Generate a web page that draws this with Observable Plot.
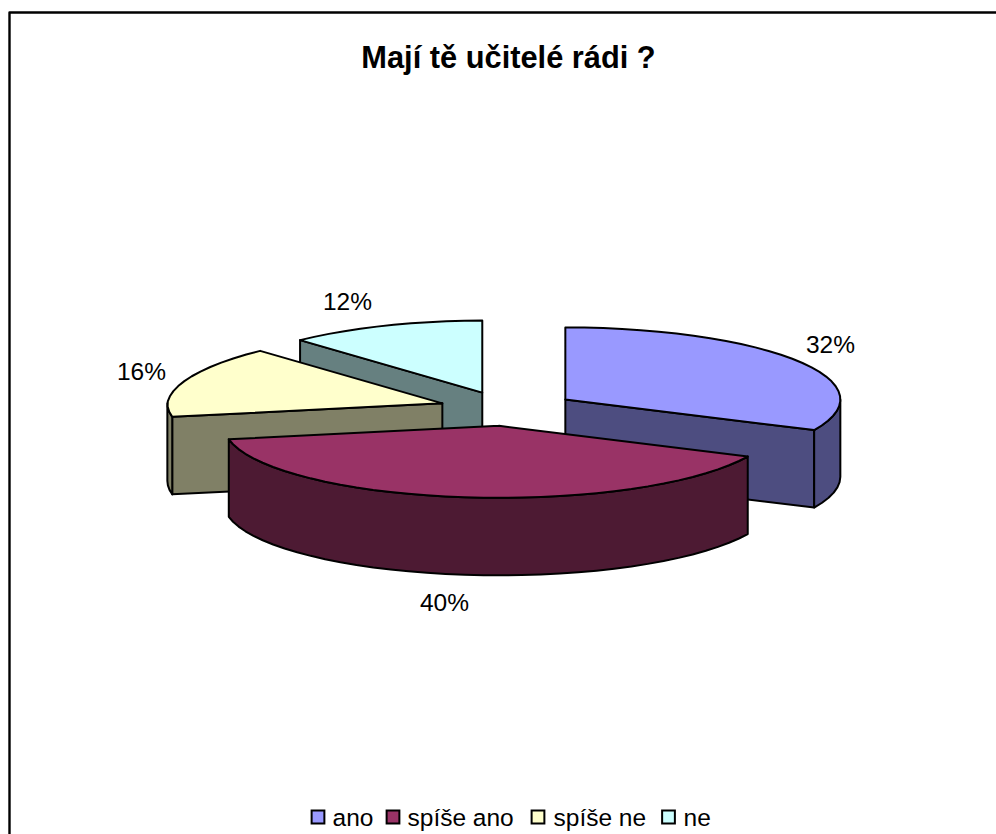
<!DOCTYPE html>
<html><head><meta charset="utf-8">
<script src="https://cdn.jsdelivr.net/npm/d3@7"></script>
<script src="https://cdn.jsdelivr.net/npm/@observablehq/plot@0.6"></script>
<style>html,body{margin:0;padding:0;background:#fff}svg{display:block}</style>
</head><body><div id="chart"></div>
<script>
// Data
const categories = ["ano", "spíše ano", "spíše ne", "ne"];
const shares = [32, 40, 16, 12];
const title = "Mají tě učitelé rádi ?";
const topColors = ["#9999FF", "#993366", "#FFFFCC", "#CCFFFF"];
const sideColors = ["#4D4D80", "#4D1A33", "#808066", "#668080"];

// Layout of the tilted, exploded pie (page pixels)
const W = 996, H = 834;
const pie = {cx: 507, cy: 408.2, rx: 275, ry: 72, depth: 77.5, ex: 68.5, ey: 17.3, step: 4, backLeft: 0.044};
const labelPos = [[830, 344.5], [444, 602.5], [141, 371.5], [347, 301.5]];
const legendSwatchX = [317.5, 392.5, 537.5, 668];
const legendTextX = [332, 407, 553, 683];
const frame = {l: 9, t: 12};

// Slices in degrees, clockwise from 12 o'clock
const total = d3.sum(shares);
let acc = 0;
const slices = shares.map((v, i) => {
  const a0 = acc / total * 360; acc += v; const a1 = acc / total * 360;
  const mid = (a0 + a1) / 2 * Math.PI / 180;
  return {i, a0, a1, ax: pie.cx + pie.ex * Math.sin(mid), ay: pie.cy - pie.ey * Math.cos(mid)};
});
const rim = (s, deg, drop = 0) => {
  const r = deg * Math.PI / 180, sn = Math.sin(r), cs = Math.cos(r);
  const persp = (sn < 0 && cs > 0) ? 1 - pie.backLeft * cs : 1;
  return [s.ax + pie.rx * sn * persp, s.ay - pie.ry * cs + drop];
};
const arc = (s, from, to, drop = 0) => {
  const out = [], n = Math.max(1, Math.round(Math.abs(to - from) / pie.step));
  for (let k = 0; k <= n; k++) out.push(rim(s, from + (to - from) * k / n, drop));
  return out;
};
const faces = [];
const add = (pts, color) => {
  const id = faces.length;
  faces.push({id, color, pts: [...pts, pts[0]].map(([x, y]) => ({x, y, id, color}))});
};
// back to front: ne, spíše ne, ano, spíše ano
for (const i of [3, 2, 0, 1]) {
  const s = slices[i], apex = [s.ax, s.ay], apexLow = [s.ax, s.ay + pie.depth];
  // cut faces that look toward the viewer
  if (i === 3 || i === 2) add([apex, rim(s, s.a0), rim(s, s.a0, pie.depth), apexLow], sideColors[i]);
  if (i === 0) add([apex, rim(s, s.a1), rim(s, s.a1, pie.depth), apexLow], sideColors[i]);
  // visible outer wall (front half of the ellipse)
  const f0 = Math.max(s.a0, 90), f1 = Math.min(s.a1, 270);
  if (f1 > f0) add([...arc(s, f0, f1), ...arc(s, f1, f0, pie.depth)], sideColors[i]);
  // top surface
  add([apex, ...arc(s, s.a0, s.a1)], topColors[i]);
}
const rows = faces.flatMap(f => f.pts);

const labels = shares.map((v, i) => ({t: v + "%", x: labelPos[i][0], y: labelPos[i][1]}));
const legend = categories.map((c, i) => ({c, color: topColors[i], sx: legendSwatchX[i], tx: legendTextX[i]}));
const font = "'Liberation Sans', Arial, sans-serif";

const chart = Plot.plot({
  width: W, height: H, margin: 0,
  style: {background: "#fff", fontFamily: font},
  x: {domain: [0, W], range: [0, W], axis: null},
  y: {domain: [0, H], range: [0, H], axis: null},
  marks: [
    Plot.line([{x: frame.l, y: H + 5}, {x: frame.l, y: frame.t}, {x: W + 5, y: frame.t}],
      {x: "x", y: "y", stroke: "#000", strokeWidth: 2.4, curve: "linear"}),
    Plot.line(rows, {x: "x", y: "y", z: "id", fill: "color", stroke: "#000", strokeWidth: 2, strokeLinejoin: "round", curve: "linear"}),
    Plot.text([title], {x: () => 508, y: () => 58, text: d => d, fontSize: 30.8, fontWeight: "bold", fill: "#000", textAnchor: "middle", lineAnchor: "middle", fontFamily: font}),
    Plot.text(labels, {x: "x", y: "y", text: "t", fontSize: 24.5, fill: "#000", textAnchor: "middle", lineAnchor: "middle", fontFamily: font}),
    Plot.dot(legend, {x: "sx", y: () => 816.5, symbol: "square", r: 7.2, fill: "color", stroke: "#000", strokeWidth: 2}),
    Plot.text(legend, {x: "tx", y: () => 817.5, text: "c", fontSize: 24.5, fill: "#000", textAnchor: "start", lineAnchor: "middle", fontFamily: font})
  ]
});
document.getElementById("chart").append(chart);
</script></body></html>
